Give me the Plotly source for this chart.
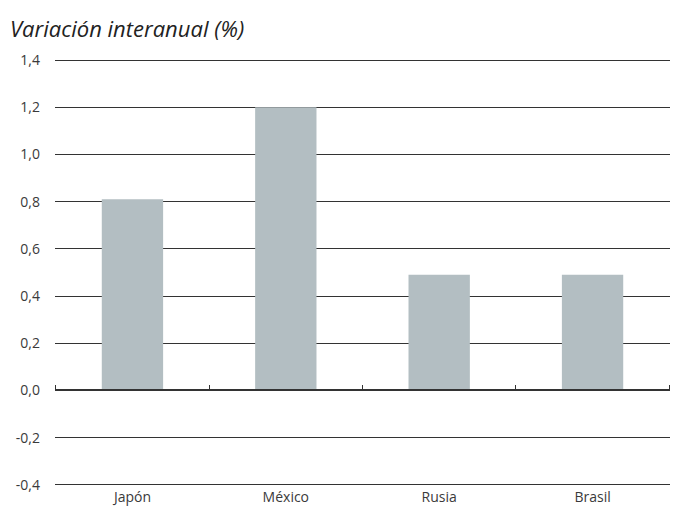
import plotly.graph_objects as go

categories = ["Japón", "México", "Rusia", "Brasil"]
values = [0.81, 1.20, 0.49, 0.49]
y_ticks = [-0.4, -0.2, 0.0, 0.2, 0.4, 0.6, 0.8, 1.0, 1.2, 1.4]
y_tick_labels = ["-0,4", "-0,2", "0,0", "0,2", "0,4", "0,6", "0,8", "1,0", "1,2", "1,4"]

y_min, y_max = -0.4, 1.4
pad = 0.009
font_family = "Open Sans, Noto Sans, sans-serif"
text_color = "#3a3a3a"

fig = go.Figure()
fig.add_trace(go.Bar(
    x=categories, y=values, marker_color="#b3bec2", marker_line_width=0,
    width=0.4, showlegend=False, hoverinfo="skip",
))
# invisible trace to activate xaxis2 (zero line with boundary ticks)
fig.add_trace(go.Bar(x=categories, y=[None] * len(categories), xaxis="x2",
                     showlegend=False, hoverinfo="skip"))

x_range = [-0.505, len(categories) - 0.495]
fig.update_layout(
    width=694, height=518,
    margin=dict(l=55, r=24, t=58, b=29),
    plot_bgcolor="white", paper_bgcolor="white",
    font=dict(family=font_family, size=13, color=text_color),
    bargap=0.6,
    xaxis=dict(
        type="category", categoryorder="array", categoryarray=categories,
        range=x_range,
        showgrid=False, zeroline=False, showline=False, ticks="",
        tickfont=dict(size=14, color=text_color),
    ),
    xaxis2=dict(
        type="category", overlaying="x", anchor="free",
        categoryorder="array", categoryarray=categories, range=x_range,
        position=(0 - (y_min - pad)) / ((y_max + pad) - (y_min - pad)),
        side="top", showgrid=False, zeroline=False,
        showline=True, linecolor="#333333", linewidth=1.5,
        ticks="outside", tickson="boundaries", ticklen=5, tickwidth=1.2,
        tickcolor="#333333", showticklabels=False,
    ),
    yaxis=dict(
        range=[y_min - pad, y_max + pad], tickvals=y_ticks, ticktext=y_tick_labels,
        showgrid=True, gridcolor="#333333", gridwidth=1,
        zeroline=False, showline=False, ticks="",
        ticklabelstandoff=14,
        tickfont=dict(size=14, color=text_color),
    ),
    annotations=[dict(
        text="<i>Variación interanual (%)</i>", xref="paper", yref="paper",
        x=-55 / 615, y=1, yshift=30, xshift=8, xanchor="left", yanchor="middle",
        showarrow=False, font=dict(size=22, color="#222222", family=font_family),
    )],
)

fig.write_html("out.html")
